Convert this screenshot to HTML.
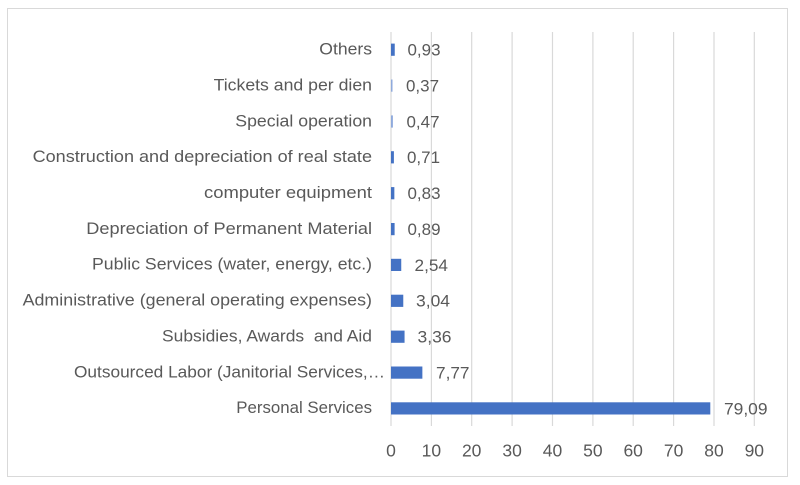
<!DOCTYPE html>
<html><head><meta charset="utf-8"><style>
html,body{margin:0;padding:0;background:#fff;}
svg{display:block;}
text{font-family:"Liberation Sans",Arial,sans-serif;fill:#595959;}
</style></head><body>
<svg width="800" height="485" viewBox="0 0 800 485" xmlns="http://www.w3.org/2000/svg">
<rect x="0" y="0" width="800" height="485" fill="#fff"/>
<rect x="7.5" y="8.5" width="780" height="468" fill="none" stroke="#d9d9d9" stroke-width="1"/>
<g stroke="#d9d9d9" stroke-width="1.2">
<line x1="391" y1="32" x2="391" y2="426"/>
<line x1="431.4" y1="32" x2="431.4" y2="426"/>
<line x1="471.7" y1="32" x2="471.7" y2="426"/>
<line x1="512.1" y1="32" x2="512.1" y2="426"/>
<line x1="552.5" y1="32" x2="552.5" y2="426"/>
<line x1="592.9" y1="32" x2="592.9" y2="426"/>
<line x1="633.2" y1="32" x2="633.2" y2="426"/>
<line x1="673.6" y1="32" x2="673.6" y2="426"/>
<line x1="714" y1="32" x2="714" y2="426"/>
<line x1="754.3" y1="32" x2="754.3" y2="426"/>
</g>
<g fill="#4472c4">
<rect x="391" y="43.6" width="3.75" height="12.2"/>
<rect x="391" y="79.5" width="1.5" height="12.2" fill="#8faadc"/>
<rect x="391" y="115.4" width="1.9" height="12.2" fill="#8faadc"/>
<rect x="391" y="151.2" width="2.9" height="12.2"/>
<rect x="391" y="187.1" width="3.35" height="12.2"/>
<rect x="391" y="223" width="3.6" height="12.2"/>
<rect x="391" y="258.8" width="10.25" height="12.2"/>
<rect x="391" y="294.7" width="12.27" height="12.2"/>
<rect x="391" y="330.6" width="13.56" height="12.2"/>
<rect x="391" y="366.5" width="31.37" height="12.2"/>
<rect x="391" y="402.3" width="319.3" height="12.2"/>
</g>
<g font-size="17" text-anchor="end">
<text x="372" y="54.5" textLength="52.7" lengthAdjust="spacingAndGlyphs">Others</text>
<text x="372" y="90.4" textLength="158.4" lengthAdjust="spacingAndGlyphs">Tickets and per dien</text>
<text x="372" y="126.3" textLength="136.7" lengthAdjust="spacingAndGlyphs">Special operation</text>
<text x="372" y="162.1" textLength="339.4" lengthAdjust="spacingAndGlyphs">Construction and depreciation of real state</text>
<text x="372" y="198" textLength="168" lengthAdjust="spacingAndGlyphs">computer equipment</text>
<text x="372" y="233.9" textLength="285.7" lengthAdjust="spacingAndGlyphs">Depreciation of Permanent Material</text>
<text x="372" y="269.7" textLength="280" lengthAdjust="spacingAndGlyphs">Public Services (water, energy, etc.)</text>
<text x="372" y="305.6" textLength="349.4" lengthAdjust="spacingAndGlyphs">Administrative (general operating expenses)</text>
<text x="372" y="341.5" textLength="210" lengthAdjust="spacingAndGlyphs">Subsidies, Awards &#160;and Aid</text>
<text x="385" y="377.4" textLength="311" lengthAdjust="spacingAndGlyphs">Outsourced Labor (Janitorial Services,…</text>
<text x="372" y="413.2" textLength="135.7" lengthAdjust="spacingAndGlyphs">Personal Services</text>
</g>
<g font-size="17">
<text x="407.5" y="55.6" textLength="33" lengthAdjust="spacingAndGlyphs">0,93</text>
<text x="406" y="91.5" textLength="33" lengthAdjust="spacingAndGlyphs">0,37</text>
<text x="406.5" y="127.4" textLength="33" lengthAdjust="spacingAndGlyphs">0,47</text>
<text x="407" y="163.2" textLength="33" lengthAdjust="spacingAndGlyphs">0,71</text>
<text x="407.5" y="199.1" textLength="33" lengthAdjust="spacingAndGlyphs">0,83</text>
<text x="407.5" y="235" textLength="33" lengthAdjust="spacingAndGlyphs">0,89</text>
<text x="414.5" y="270.8" textLength="33.5" lengthAdjust="spacingAndGlyphs">2,54</text>
<text x="416" y="306.7" textLength="34" lengthAdjust="spacingAndGlyphs">3,04</text>
<text x="417.5" y="342.6" textLength="34" lengthAdjust="spacingAndGlyphs">3,36</text>
<text x="436" y="378.5" textLength="33.5" lengthAdjust="spacingAndGlyphs">7,77</text>
<text x="724" y="414.3" textLength="43.5" lengthAdjust="spacingAndGlyphs">79,09</text>
</g>
<g font-size="17.5" text-anchor="middle">
<text x="391" y="456.5">0</text>
<text x="431.4" y="456.5">10</text>
<text x="471.7" y="456.5">20</text>
<text x="512.1" y="456.5">30</text>
<text x="552.5" y="456.5">40</text>
<text x="592.9" y="456.5">50</text>
<text x="633.2" y="456.5">60</text>
<text x="673.6" y="456.5">70</text>
<text x="714" y="456.5">80</text>
<text x="754.3" y="456.5">90</text>
</g>
</svg>
</body></html>
